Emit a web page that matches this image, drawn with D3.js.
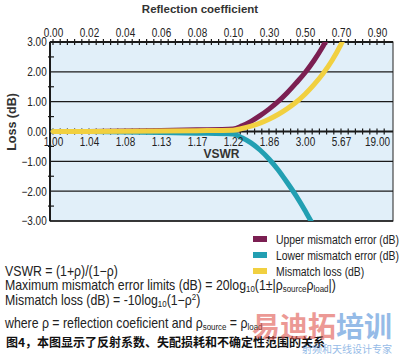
<!DOCTYPE html>
<html>
<head>
<meta charset="utf-8">
<script src="https://cdn.jsdelivr.net/npm/d3@7"></script>
<style>
  body { margin: 0; background: #fff; }
  svg { display: block; font-family: 'Liberation Sans', Arial, sans-serif; }
</style>
</head>
<body>
<div id="chart"></div>
<script>
// reflection coefficient labels (top) and matching VSWR labels (bottom)
const rhoTicks = [0, 0.02, 0.04, 0.06, 0.08, 0.10, 0.30, 0.50, 0.70, 0.90]
const vswrLabels = ['1.00', '1.04', '1.08', '1.13', '1.17', '1.22', '1.86', '3.00', '5.67', '19.00']
const yTicks = [3, 2, 1, 0, -1, -2, -3]

// curves
const rho = [0, 0.02, 0.04, 0.06, 0.08, 0.10, 0.15, 0.20, 0.25, 0.30, 0.35, 0.40, 0.45, 0.50, 0.55, 0.60, 0.65, 0.70, 0.75]
const upperError = [0, 0.003, 0.014, 0.031, 0.055, 0.086, 0.19, 0.34, 0.53, 0.75, 1.0, 1.29, 1.62, 1.97, 2.38, 2.86, 3.4, 3.9, 4.4]
const lowerError = [0, -0.003, -0.014, -0.031, -0.056, -0.087, -0.21, -0.38, -0.62, -0.92, -1.28, -1.7, -2.15, -2.65, -3.2, -3.9, -4.8, -5.9, -7.2]
const mismatchLoss = [0, 0.002, 0.007, 0.016, 0.028, 0.044, 0.1, 0.18, 0.28, 0.41, 0.57, 0.76, 0.98, 1.25, 1.57, 1.94, 2.38, 2.92, 3.59]

const series = [
  { name: 'Upper mismatch error (dB)', values: upperError, color: '#7b1f52' },
  { name: 'Lower mismatch error (dB)', values: lowerError, color: '#229fb2' },
  { name: 'Mismatch loss (dB)', values: mismatchLoss, color: '#f1d040' }
]

const width = 400
const height = 362
const plot = { left: 50, right: 393, top: 42, bottom: 221 }
const x0 = 53
const step = 36
const narrow = 'scale(0.83, 1)'

const svg = d3.select('#chart')
  .append('svg')
  .attr('width', width)
  .attr('height', height)

// category-like top axis: equal spacing between labelled rho values
const xScale = d3.scaleLinear()
  .domain(rhoTicks)
  .range(rhoTicks.map((d, i) => x0 + i * step))

const idxScale = d3.scaleLinear()
  .domain([0, rhoTicks.length - 1])
  .range([x0, x0 + (rhoTicks.length - 1) * step])

const yScale = d3.scaleLinear()
  .domain([-3, 3])
  .range([plot.bottom, plot.top])

svg.append('rect')
  .attr('x', plot.left)
  .attr('y', plot.top)
  .attr('width', plot.right - plot.left)
  .attr('height', plot.bottom - plot.top)
  .attr('fill', '#e1eff9')
  .attr('stroke', '#222')
  .attr('stroke-width', 1)

// horizontal grid lines
svg.append('g')
  .selectAll('line')
  .data(yTicks)
  .join('line')
  .attr('x1', plot.left)
  .attr('x2', plot.right)
  .attr('y1', d => yScale(d))
  .attr('y2', d => yScale(d))
  .attr('stroke', '#1a1a1a')
  .attr('stroke-width', d => (d === 3 || d === 0) ? 2 : 1.3)

// left border
svg.append('line')
  .attr('x1', plot.left).attr('x2', plot.left)
  .attr('y1', plot.top).attr('y2', plot.bottom)
  .attr('stroke', '#1a1a1a')
  .attr('stroke-width', 2)

// minor ticks along top border and zero line
const minor = d3.range(0, 47).map(k => idxScale(k / 5)).filter(v => v < plot.right - 1)
const tickRows = [plot.top, yScale(0)]
tickRows.forEach(yy => {
  svg.append('g')
    .selectAll('line')
    .data(minor)
    .join('line')
    .attr('x1', d => d).attr('x2', d => d)
    .attr('y1', yy - 3).attr('y2', yy + 3)
    .attr('stroke', '#1a1a1a')
    .attr('stroke-width', 1.2)
})

// minor ticks on the left axis
svg.append('g')
  .selectAll('line')
  .data(d3.range(-2.5, 3, 1))
  .join('line')
  .attr('x1', plot.left - 2).attr('x2', plot.left + 4)
  .attr('y1', d => yScale(d)).attr('y2', d => yScale(d))
  .attr('stroke', '#1a1a1a')
  .attr('stroke-width', 1.2)

// curves
svg.append('clipPath')
  .attr('id', 'plot-clip')
  .append('rect')
  .attr('x', plot.left)
  .attr('y', plot.top)
  .attr('width', plot.right - plot.left)
  .attr('height', plot.bottom - plot.top)

const line = d3.line()
  .x((d, i) => xScale(rho[i]))
  .y(d => yScale(d))
  .curve(d3.curveMonotoneX)

svg.append('g')
  .attr('clip-path', 'url(#plot-clip)')
  .selectAll('path')
  .data(series)
  .join('path')
  .attr('d', d => line(d.values))
  .attr('fill', 'none')
  .attr('stroke', d => d.color)
  .attr('stroke-width', 5)
  .attr('stroke-linecap', 'round')

// axes text
function styleTicks (g) {
  g.select('.domain').remove()
  g.selectAll('text')
    .attr('font-size', 12)
    .attr('font-family', null)
    .attr('fill', '#222')
    .attr('transform', narrow)
}

const topAxis = d3.axisTop(xScale)
  .tickValues(rhoTicks)
  .tickFormat(d3.format('.2f'))
  .tickSize(0)
  .tickPadding(5)

svg.append('g')
  .attr('transform', `translate(0, ${plot.top})`)
  .call(topAxis)
  .call(styleTicks)

const bottomAxis = d3.axisBottom(xScale)
  .tickValues(rhoTicks)
  .tickFormat((d, i) => vswrLabels[i])
  .tickSize(0)
  .tickPadding(6)

svg.append('g')
  .attr('transform', `translate(0, ${yScale(0)})`)
  .call(bottomAxis)
  .call(styleTicks)

const leftAxis = d3.axisLeft(yScale)
  .tickValues(yTicks)
  .tickFormat(d3.format('.2f'))
  .tickSize(0)
  .tickPadding(4)

svg.append('g')
  .attr('transform', `translate(${plot.left}, 0)`)
  .call(leftAxis)
  .call(styleTicks)

// axis titles
svg.append('text')
  .attr('x', 200)
  .attr('y', 13)
  .attr('text-anchor', 'middle')
  .attr('font-weight', 'bold')
  .attr('font-size', 11.5)
  .attr('fill', '#333')
  .text('Reflection coefficient')

svg.append('text')
  .attr('x', (plot.left + plot.right) / 2)
  .attr('y', 158)
  .attr('text-anchor', 'middle')
  .attr('font-weight', 'bold')
  .attr('font-size', 12)
  .attr('fill', '#333')
  .text('VSWR')

svg.append('text')
  .attr('transform', `translate(16, 122) rotate(-90)`)
  .attr('text-anchor', 'middle')
  .attr('font-weight', 'bold')
  .attr('font-size', 12.5)
  .attr('fill', '#333')
  .text('Loss (dB)')

// legend
const legend = svg.append('g')
  .selectAll('g')
  .data(series)
  .join('g')
  .attr('transform', (d, i) => `translate(253, ${239 + i * 16})`)

legend.append('rect')
  .attr('x', 0)
  .attr('y', -3)
  .attr('width', 14)
  .attr('height', 6)
  .attr('fill', d => d.color)

legend.append('text')
  .attr('transform', 'translate(23, 0) scale(0.77, 1)')
  .attr('dy', '0.35em')
  .attr('font-size', 13.5)
  .attr('fill', '#222')
  .text(d => d.name)

// formulas
const notes = svg.append('g')
  .attr('transform', 'translate(5, 0) scale(0.88, 1)')
  .attr('font-size', 14)
  .attr('fill', '#222')

notes.append('text')
  .attr('y', 276)
  .text('VSWR = (1+ρ)/(1\u2212ρ)')

const maxLine = notes.append('text')
  .attr('y', 290)
maxLine.append('tspan').text('Maximum mismatch error limits (dB) = 20log')
maxLine.append('tspan').attr('font-size', 9).attr('dy', 2.5).text('10')
maxLine.append('tspan').attr('dy', -2.5).text('(1±|ρ')
maxLine.append('tspan').attr('font-size', 9).attr('dy', 2.5).text('source')
maxLine.append('tspan').attr('dy', -2.5).text('ρ')
maxLine.append('tspan').attr('font-size', 9).attr('dy', 2.5).text('load')
maxLine.append('tspan').attr('dy', -2.5).text('|)')

const lossLine = notes.append('text')
  .attr('y', 305)
lossLine.append('tspan').text('Mismatch loss (dB) = -10log')
lossLine.append('tspan').attr('font-size', 9).attr('dy', 2.5).text('10')
lossLine.append('tspan').attr('dy', -2.5).text('(1\u2212ρ')
lossLine.append('tspan').attr('font-size', 9).attr('dy', -5).text('2')
lossLine.append('tspan').attr('dy', 5).text(')')

const whereLine = notes.append('text')
  .attr('y', 328)
whereLine.append('tspan').text('where ρ = reflection coeficient and ρ')
whereLine.append('tspan').attr('font-size', 9).attr('dy', 2.5).text('source')
whereLine.append('tspan').attr('dy', -2.5).text(' = ρ')
whereLine.append('tspan').attr('font-size', 9).attr('dy', 2.5).text('load')

// caption
svg.append('text')
  .attr('x', 6).attr('y', 347)
  .attr('font-family', 'Noto Sans CJK SC, sans-serif')
  .attr('font-weight', 'bold')
  .attr('font-size', 12)
  .attr('fill', '#111')
  .text('图4，本图显示了反射系数、失配损耗和不确定性范围的关系')

// watermark
const mark = svg.append('g')
  .attr('font-family', 'Noto Sans CJK SC, sans-serif')
  .attr('font-weight', 'bold')
  .attr('opacity', 0.6)
mark.append('text')
  .attr('x', 252).attr('y', 337)
  .attr('font-size', 28)
  .attr('fill', '#e0574f')
  .text('易迪拓')
mark.append('text')
  .attr('x', 336).attr('y', 337)
  .attr('font-size', 28)
  .attr('fill', '#4f8fd8')
  .text('培训')
mark.append('text')
  .attr('x', 302).attr('y', 353)
  .attr('font-size', 10)
  .attr('font-weight', 'normal')
  .attr('fill', '#4f8fd8')
  .text('射频和天线设计专家')
</script>
</body>
</html>
